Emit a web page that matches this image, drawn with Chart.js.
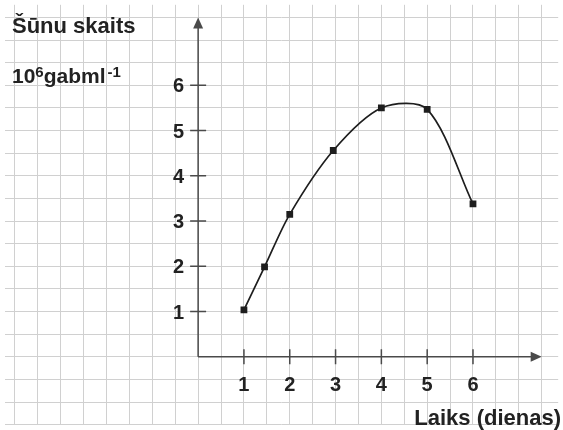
<!DOCTYPE html>
<html>
<head>
<meta charset="utf-8">
<script src="https://cdn.jsdelivr.net/npm/chart.js@4/dist/chart.umd.min.js"></script>
<style>
  html, body { margin: 0; padding: 0; background: #fff; }
  #wrap { width: 563px; height: 430px; }
</style>
</head>
<body>
<div id="wrap"><canvas id="chart" width="563" height="430"></canvas></div>
<script>
// Dati: šūnu skaits pa dienām
const days = [1, 1.45, 2, 2.95, 4, 5, 6];
const cells = [1.04, 1.99, 3.15, 4.56, 5.5, 5.47, 3.38];

// Asu iedaļas un uzraksti
const xTicks = [1, 2, 3, 4, 5, 6];
const yTicks = [1, 2, 3, 4, 5, 6];
const yTitle = "Šūnu skaits";
const xTitle = "Laiks (dienas)";

// Redzamais diapazons (režģis aizņem visu attēlu)
const X_MIN = -4.22, X_MAX = 7.86;
const Y_MIN = -1.51, Y_MAX = 7.78;
const AXIS_END = 7.5;

const FONT = '"Liberation Sans", Arial, sans-serif';
const AXIS_COLOR = "#4a4a4a";
const TEXT_COLOR = "#222";

// Spraudnis asīm, bultām, iedaļām un uzrakstiem
const axesPlugin = {
  id: "axesPlugin",
  beforeDatasetsDraw(chart) {
    const ctx = chart.ctx;
    const xs = chart.scales.x;
    const ys = chart.scales.y;
    const x0 = xs.getPixelForValue(0);
    const y0 = ys.getPixelForValue(0);
    const xEnd = xs.getPixelForValue(AXIS_END);
    const yEnd = ys.getPixelForValue(AXIS_END);

    ctx.save();
    ctx.strokeStyle = AXIS_COLOR;
    ctx.fillStyle = AXIS_COLOR;
    ctx.lineWidth = 1.5;

    // asis
    ctx.beginPath();
    ctx.moveTo(x0, y0);
    ctx.lineTo(xEnd - 8, y0);
    ctx.moveTo(x0, y0);
    ctx.lineTo(x0, yEnd + 8);
    ctx.stroke();

    // bultas
    ctx.beginPath();
    ctx.moveTo(xEnd, y0);
    ctx.lineTo(xEnd - 11, y0 - 5);
    ctx.lineTo(xEnd - 11, y0 + 5);
    ctx.closePath();
    ctx.fill();
    ctx.beginPath();
    ctx.moveTo(x0, yEnd);
    ctx.lineTo(x0 - 5, yEnd + 11);
    ctx.lineTo(x0 + 5, yEnd + 11);
    ctx.closePath();
    ctx.fill();

    // iedaļas
    ctx.beginPath();
    xTicks.forEach(v => {
      const px = xs.getPixelForValue(v);
      ctx.moveTo(px, y0 - 7.5);
      ctx.lineTo(px, y0 + 7.5);
    });
    yTicks.forEach(v => {
      const py = ys.getPixelForValue(v);
      ctx.moveTo(x0 - 8, py);
      ctx.lineTo(x0 + 8, py);
    });
    ctx.stroke();

    // iedaļu skaitļi
    ctx.fillStyle = TEXT_COLOR;
    ctx.font = "bold 20px " + FONT;
    ctx.textAlign = "center";
    ctx.textBaseline = "alphabetic";
    xTicks.forEach(v => {
      ctx.fillText(String(v), xs.getPixelForValue(v), y0 + 34);
    });
    ctx.textAlign = "right";
    yTicks.forEach(v => {
      ctx.fillText(String(v), x0 - 14, ys.getPixelForValue(v) + 7);
    });

    // asu nosaukumi
    ctx.textAlign = "left";
    ctx.font = "bold 22px " + FONT;
    ctx.fillText(yTitle, 12, 33);

    // 10^6 gab ml^-1
    let tx = 12;
    ctx.font = "bold 21px " + FONT;
    ctx.fillText("10", tx, 83);
    tx += ctx.measureText("10").width;
    ctx.font = "bold 15px " + FONT;
    ctx.fillText("6", tx, 77);
    tx += ctx.measureText("6").width;
    ctx.font = "bold 21px " + FONT;
    ctx.fillText("gabml", tx, 83);
    tx += ctx.measureText("gabml").width + 2;
    ctx.font = "bold 15px " + FONT;
    ctx.fillText("-1", tx, 77);

    ctx.textAlign = "right";
    ctx.font = "bold 22px " + FONT;
    ctx.fillText(xTitle, 561, 425);
    ctx.restore();
  }
};

const whiteBg = {
  id: "whiteBg",
  beforeDraw(chart) {
    const ctx = chart.ctx;
    ctx.save();
    ctx.fillStyle = "#fff";
    ctx.fillRect(0, 0, chart.width, chart.height);
    ctx.restore();
  }
};

const gridOpts = { color: "#d0d0d0", lineWidth: 1, drawTicks: false };

new Chart(document.getElementById("chart"), {
  type: "line",
  data: {
    datasets: [{
      data: days.map((d, i) => ({ x: d, y: cells[i] })),
      borderColor: "#1e1e1e",
      borderWidth: 1.7,
      tension: 0.3,
      pointStyle: "rect",
      pointRadius: 4.8,
      pointBackgroundColor: "#1e1e1e",
      pointBorderColor: "#1e1e1e",
      pointBorderWidth: 0,
      fill: false
    }]
  },
  options: {
    responsive: false,
    animation: false,
    layout: { padding: 0 },
    plugins: { legend: { display: false }, tooltip: { enabled: false } },
    scales: {
      x: {
        type: "linear",
        min: X_MIN,
        max: X_MAX,
        ticks: { display: false, stepSize: 0.5, includeBounds: false },
        grid: gridOpts,
        border: { display: false }
      },
      y: {
        type: "linear",
        min: Y_MIN,
        max: Y_MAX,
        ticks: { display: false, stepSize: 0.5, includeBounds: false },
        grid: gridOpts,
        border: { display: false }
      }
    }
  },
  plugins: [whiteBg, axesPlugin]
});
</script>
</body>
</html>
